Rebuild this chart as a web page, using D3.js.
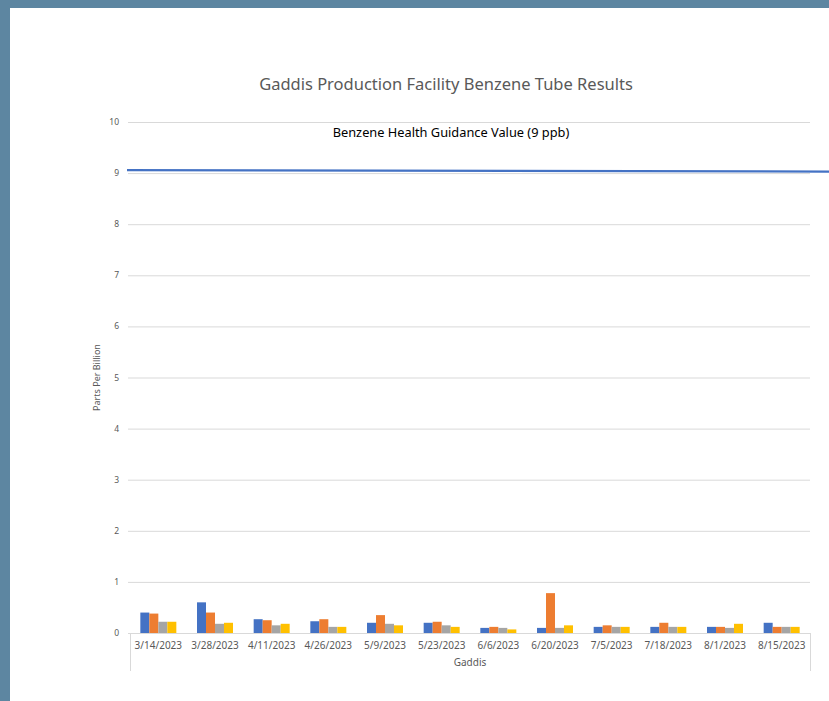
<!DOCTYPE html>
<html>
<head>
<meta charset="utf-8">
<script src="https://cdn.jsdelivr.net/npm/d3@7"></script>
<style>
  body { margin: 0; background: #5d86a1; }
  svg { display: block; }
  text { font-family: "Noto Sans", sans-serif; }
</style>
</head>
<body>
<svg id="chart"></svg>
<script>
const dates = ["3/14/2023", "3/28/2023", "4/11/2023", "4/26/2023", "5/9/2023", "5/23/2023", "6/6/2023", "6/20/2023", "7/5/2023", "7/18/2023", "8/1/2023", "8/15/2023"];
const seriesA = [0.40, 0.60, 0.27, 0.23, 0.20, 0.20, 0.10, 0.10, 0.12, 0.12, 0.12, 0.20];
const seriesB = [0.38, 0.40, 0.25, 0.27, 0.35, 0.22, 0.12, 0.78, 0.15, 0.20, 0.12, 0.12];
const seriesC = [0.22, 0.18, 0.15, 0.12, 0.18, 0.15, 0.10, 0.10, 0.12, 0.12, 0.10, 0.12];
const seriesD = [0.22, 0.20, 0.18, 0.12, 0.15, 0.12, 0.07, 0.15, 0.12, 0.12, 0.18, 0.12];
const seriesColors = ["#4472c4", "#ed7d31", "#a5a5a5", "#ffc000"];
const yTicks = [0, 1, 2, 3, 4, 5, 6, 7, 8, 9, 10];
const guidanceValue = 9;
const guidanceLabel = "Benzene Health Guidance Value (9 ppb)";

const width = 829, height = 701;
const plotLeft = 130, plotRight = 810, plotTop = 122, plotBottom = 633;

const svg = d3.select("#chart").attr("width", width).attr("height", height);

// white panel
svg.append("rect").attr("x", 10).attr("y", 8).attr("width", width - 10).attr("height", height - 8).attr("fill", "#fff");

const y = d3.scaleLinear().domain([0, 10]).range([plotBottom, plotTop]);
const x = d3.scaleBand().domain(dates).range([plotLeft, plotRight]);
const x1 = d3.scaleBand().domain([0, 1, 2, 3]).range([0, 36]);

// gridlines
svg.append("g")
  .selectAll("line")
  .data(yTicks.slice(1))
  .enter()
  .append("line")
  .attr("x1", plotLeft - 2)
  .attr("x2", plotRight)
  .attr("y1", (d) => y(d) + 0.5)
  .attr("y2", (d) => y(d) + 0.5)
  .attr("stroke", "#d9d9d9")
  .attr("stroke-width", 1);

// y tick labels
svg.append("g")
  .selectAll("text")
  .data(yTicks)
  .enter()
  .append("text")
  .attr("x", 119)
  .attr("y", (d) => y(d) + 3)
  .attr("text-anchor", "end")
  .attr("font-size", 8.5)
  .attr("fill", "#595959")
  .text((d) => d);

// bars
const series = [seriesA, seriesB, seriesC, seriesD];
series.forEach((vals, si) => {
  svg.append("g")
    .selectAll("rect")
    .data(vals)
    .enter()
    .append("rect")
    .attr("x", (d, i) => x(dates[i]) + (x.bandwidth() - 36) / 2 + x1(si))
    .attr("y", (d) => y(d))
    .attr("width", x1.bandwidth())
    .attr("height", (d) => plotBottom - y(d))
    .attr("fill", seriesColors[si]);
});

// x axis line and side borders
svg.append("line").attr("x1", plotLeft - 2).attr("x2", plotRight).attr("y1", plotBottom + 0.5).attr("y2", plotBottom + 0.5).attr("stroke", "#d9d9d9");
svg.append("line").attr("x1", plotLeft + 0.5).attr("x2", plotLeft + 0.5).attr("y1", plotBottom).attr("y2", 671).attr("stroke", "#d9d9d9");
svg.append("line").attr("x1", plotRight + 0.5).attr("x2", plotRight + 0.5).attr("y1", plotBottom).attr("y2", 671).attr("stroke", "#d9d9d9");

svg.append("g")
  .selectAll("text")
  .data(dates)
  .enter()
  .append("text")
  .attr("x", (d) => x(d) + x.bandwidth() / 2)
  .attr("y", 648.5)
  .attr("text-anchor", "middle")
  .attr("font-size", 10)
  .attr("fill", "#595959")
  .text((d) => d);

svg.append("text")
  .attr("x", (plotLeft + plotRight) / 2)
  .attr("y", 666)
  .attr("text-anchor", "middle")
  .attr("font-size", 10)
  .attr("fill", "#595959")
  .text("Gaddis");

// y axis title
svg.append("text")
  .attr("transform", `translate(100, ${(plotTop + plotBottom) / 2}) rotate(-90)`)
  .attr("text-anchor", "middle")
  .attr("font-size", 9)
  .attr("fill", "#595959")
  .text("Parts Per Billion");

// title
svg.append("text")
  .attr("x", 446)
  .attr("y", 90)
  .attr("text-anchor", "middle")
  .attr("font-size", 16.5)
  .attr("fill", "#595959")
  .text("Gaddis Production Facility Benzene Tube Results");

// guidance line
svg.append("line")
  .attr("x1", 127)
  .attr("x2", width)
  .attr("y1", y(guidanceValue) - 3)
  .attr("y2", y(guidanceValue) - 1.5)
  .attr("stroke", "#4472c4")
  .attr("stroke-width", 2.2);

svg.append("text")
  .attr("x", 451)
  .attr("y", 137)
  .attr("text-anchor", "middle")
  .attr("font-size", 12.8)
  .attr("fill", "#000")
  .text(guidanceLabel);
</script>
</body>
</html>
